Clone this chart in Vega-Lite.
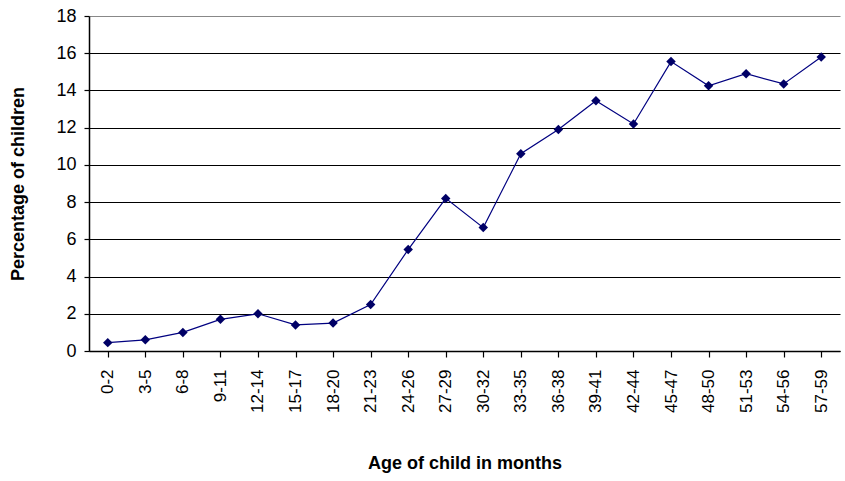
{
  "$schema": "https://vega.github.io/schema/vega-lite/v6.json",
  "autosize": "none",
  "width": 751,
  "height": 335,
  "padding": {"left": 89, "top": 16, "right": 5, "bottom": 130},
  "background": "white",
  "config": {"view": {"stroke": null}, "font": "Liberation Sans"},
  "data": {"values": [
    {"age": "0-2", "pct": 0.45},
    {"age": "3-5", "pct": 0.6},
    {"age": "6-8", "pct": 1.0},
    {"age": "9-11", "pct": 1.7},
    {"age": "12-14", "pct": 2.0},
    {"age": "15-17", "pct": 1.4},
    {"age": "18-20", "pct": 1.5},
    {"age": "21-23", "pct": 2.5},
    {"age": "24-26", "pct": 5.45},
    {"age": "27-29", "pct": 8.2},
    {"age": "30-32", "pct": 6.63},
    {"age": "33-35", "pct": 10.6},
    {"age": "36-38", "pct": 11.9},
    {"age": "39-41", "pct": 13.45},
    {"age": "42-44", "pct": 12.2},
    {"age": "45-47", "pct": 15.55},
    {"age": "48-50", "pct": 14.25},
    {"age": "51-53", "pct": 14.9},
    {"age": "54-56", "pct": 14.35},
    {"age": "57-59", "pct": 15.8}
  ]},
  "encoding": {
    "x": {
      "field": "age", "type": "ordinal", "sort": null,
      "scale": {"paddingInner": 0, "paddingOuter": 0},
      "axis": {
        "title": "Age of child in months",
        "titleFont": "Liberation Sans", "titleFontSize": 18, "titleFontWeight": "bold", "titleColor": "black",
        "titlePadding": 42,
        "labelAngle": -90, "labelAlign": "right", "labelBaseline": "middle",
        "labelFont": "Liberation Sans", "labelFontSize": 17, "labelColor": "black",
        "labelPadding": 12,
        "bandPosition": 0,
        "domainColor": "black", "domainWidth": 1.5,
        "tickColor": "black", "tickSize": 6, "tickWidth": 1.2,
        "grid": false
      }
    },
    "y": {
      "field": "pct", "type": "quantitative",
      "scale": {"domain": [0, 18], "nice": false},
      "axis": {
        "title": "Percentage of children",
        "titleFont": "Liberation Sans", "titleFontSize": 18, "titleFontWeight": "bold", "titleColor": "black",
        "titlePadding": 28,
        "values": [0, 2, 4, 6, 8, 10, 12, 14, 16, 18],
        "labelFont": "Liberation Sans", "labelFontSize": 18, "labelColor": "black", "labelPadding": 8,
        "domainColor": "black", "domainWidth": 1.5,
        "tickColor": "black", "tickSize": 5, "tickWidth": 1.2,
        "grid": true,
        "gridColor": {"condition": {"test": "datum.value == 18", "value": "#888888"}, "value": "black"},
        "gridWidth": 1.2
      }
    }
  },
  "layer": [
    {"mark": {"type": "line", "color": "#000080", "strokeWidth": 1.2}},
    {"mark": {"type": "point", "shape": "diamond", "filled": true, "color": "#000066", "size": 90, "opacity": 1}}
  ]
}
